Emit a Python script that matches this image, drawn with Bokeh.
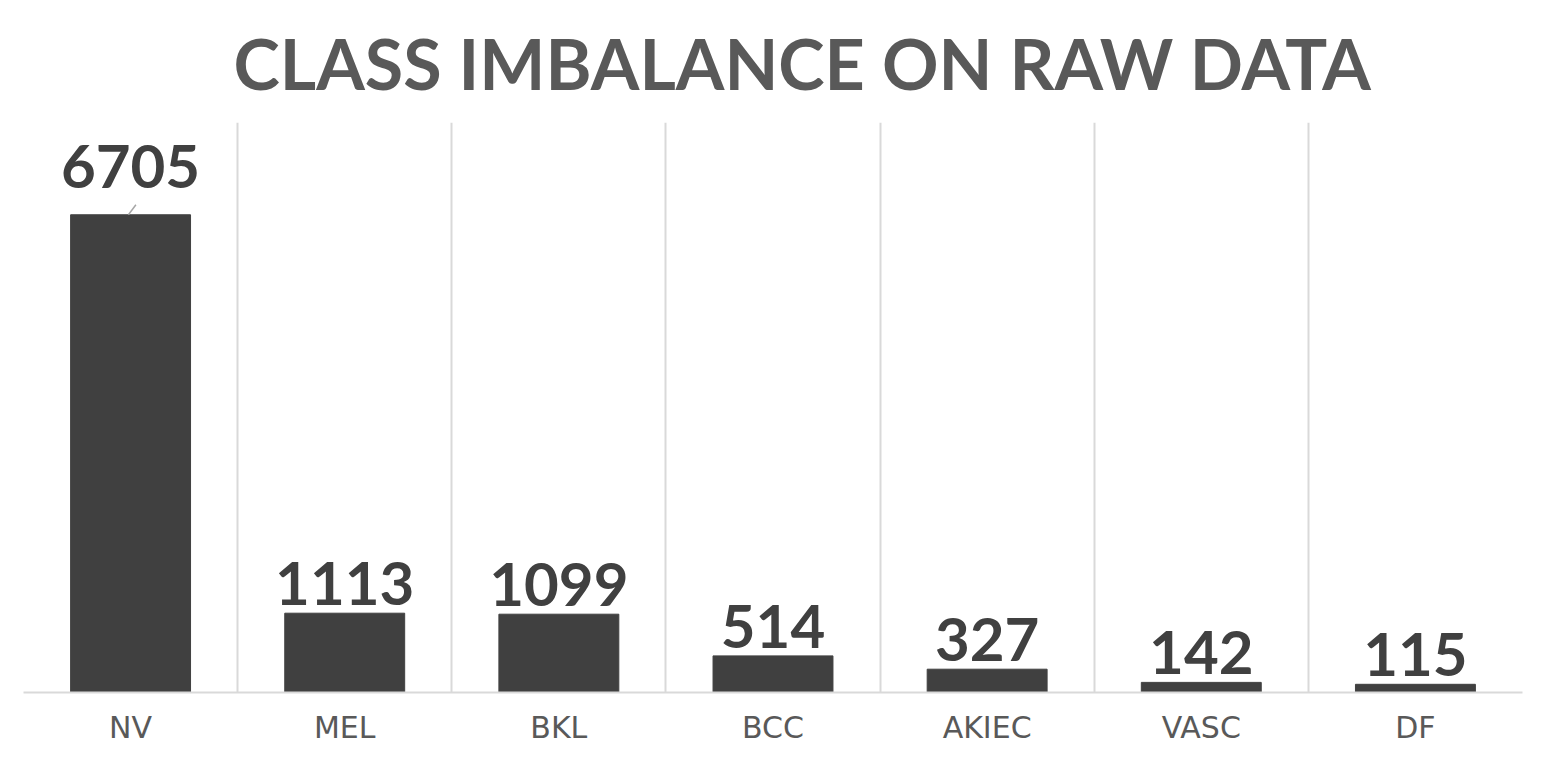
from bokeh.plotting import figure
from bokeh.models import ColumnDataSource, FixedTicker, Range1d
from bokeh.core.properties import value
from bokeh.embed import file_html
from bokeh.resources import INLINE

categories = ["NV", "MEL", "BKL", "BCC", "AKIEC", "VASC", "DF"]
counts = [6705, 1113, 1099, 514, 327, 142, 115]
title_text = "CLASS IMBALANCE ON RAW DATA"

xs = [i + 0.5 for i in range(len(categories))]
label_offsets = [-27 if c == max(counts) else -8 for c in counts]
src = ColumnDataSource(dict(x=xs, top=counts, label=[str(c) for c in counts], yoff=label_offsets))

p = figure(width=1530, height=749, output_backend="svg", toolbar_location=None,
           x_range=Range1d(0, len(categories)), y_range=Range1d(0, 8000),
           min_border_left=23, min_border_right=8, min_border_bottom=57, min_border_top=0)
p.outline_line_color = None
p.background_fill_color = "white"
p.border_fill_color = "white"

p.title.text = title_text
p.title.align = "left"
p.title.text_font = "Lato"
p.title.text_font_style = "bold"
p.title.text_font_size = "70px"
p.title.text_color = "#595959"
p.title.offset = 210
p.title.standoff = 36

p.vbar(x="x", top="top", width=0.56, source=src, color="#404040")

p.text(x="x", y="top", text="label", source=src, y_offset="yoff",
       text_align="center", text_baseline="bottom",
       text_font=value("Lato"), text_font_style="bold", text_font_size="60px",
       text_color="#404040")

# leader line for the largest label
imax = counts.index(max(counts))
p.segment(x0=[xs[imax] - 0.01], y0=[counts[imax]], x1=[xs[imax] + 0.025], y1=[counts[imax] + 140],
          line_color="#a6a6a6", line_width=1.5)

p.yaxis.visible = False
p.ygrid.visible = False
p.xgrid.ticker = FixedTicker(ticks=list(range(len(categories) + 1)))
p.xgrid.grid_line_color = "#d9d9d9"
p.xgrid.grid_line_width = 2

p.xaxis.ticker = FixedTicker(ticks=xs)
p.xaxis.major_label_overrides = {x: c for x, c in zip(xs, categories)}
p.xaxis.major_tick_line_color = None
p.xaxis.minor_tick_line_color = None
p.xaxis.axis_line_color = "#d9d9d9"
p.xaxis.axis_line_width = 2
p.xaxis.major_label_text_font = "DejaVu Sans"
p.xaxis.major_label_text_font_size = "30px"
p.xaxis.major_label_text_color = "#595959"
p.xaxis.major_label_standoff = 11

open("out.html", "w").write(file_html(p, INLINE))
